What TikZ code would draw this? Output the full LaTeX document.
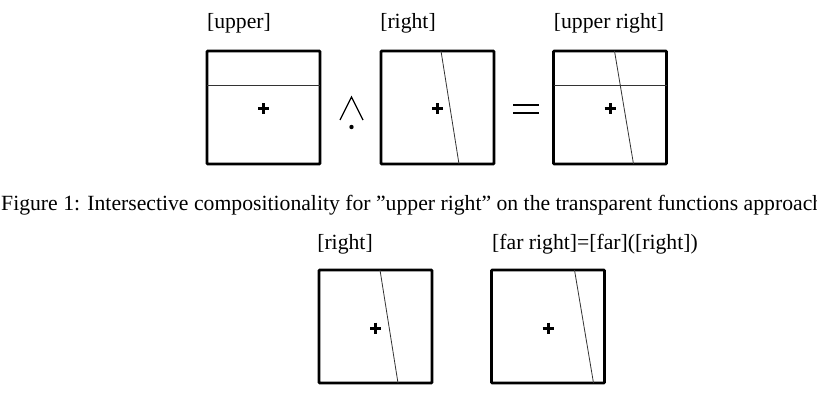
\documentclass[tikz,border=0pt]{standalone}
\usepackage{fontspec}
\setmainfont{Liberation Serif}
\usetikzlibrary{positioning}

\begin{document}
\begin{tikzpicture}[
            x=1pt, y=-1pt,
            panel/.style={draw, line width=2.6pt, minimum width=113pt, minimum height=113pt, inner sep=0pt, outer sep=0pt, rounded corners=0.8pt},
            cut/.style={line width=0.8pt, black!80},
            cross/.style={line width=3pt},
            sym/.style={line width=1.3pt},
            lbl/.style={font=\fontsize{21.7}{24}\selectfont, inner sep=0pt, anchor=base}
        ]
        \useasboundingbox (0,0) rectangle (817,406);
        \clip (0,0) rectangle (817,406);

        % --- top row ---
        \node[panel] (upperbox) at (263.5,107.5) {};
        \node[panel] (rightbox) at (437.5,107.5) {};
        \node[panel] (bothbox) at (610,107.5) {};

        \node[lbl] (upperlbl) at (239,29) {[upper]};
        \node[lbl] (rightlbl) at (408,29) {[right]};
        \node[lbl] (bothlbl) at (609,29) {[upper right]};

        % cuts
        \draw[cut] ([yshift=-34pt]upperbox.north west) -- ([yshift=-34pt]upperbox.north east);
        \draw[cut] ([yshift=-34pt]bothbox.north west) -- ([yshift=-34pt]bothbox.north east);
        \draw[cut] ([xshift=60pt]rightbox.north west) -- ([xshift=78pt]rightbox.south west);
        \draw[cut] ([xshift=61pt]bothbox.north west) -- ([xshift=80pt]bothbox.south west);

        % wedge with dot, equals
        \draw[sym] (340,120) -- (351.5,97) -- (363,120);
        \fill (351.5,127) circle (2.2);
        \draw[sym] (513,105) -- (539,105) (513,113) -- (539,113);

        % --- caption ---
        \node[lbl, anchor=base west] (caption) at (1,211) {Figure 1: Intersective compositionality for ''upper right'' on the transparent functions approach};

        % --- bottom row ---
        \node[panel] (nearbox) at (375.5,326.5) {};
        \node[panel] (farbox) at (548,326.5) {};

        \node[lbl] (nearlbl) at (345,250) {[right]};
        \node[lbl, anchor=base west] (farlbl) at (492,250) {[far right]=[far]([right])};

        \draw[cut] ([xshift=61pt]nearbox.north west) -- ([xshift=79pt]nearbox.south west);
        \draw[cut] ([xshift=83pt]farbox.north west) -- ([xshift=102pt]farbox.south west);

        % --- centre marks ---
        \foreach \b in {upperbox,rightbox,bothbox,nearbox,farbox} {
                \draw[cross] ([yshift=-1.5pt]\b.center) ++(-5.5,0) -- ++(11,0) ++(-5.5,-5.5) -- ++(0,11);
            }

    \end{tikzpicture}
\end{document}
